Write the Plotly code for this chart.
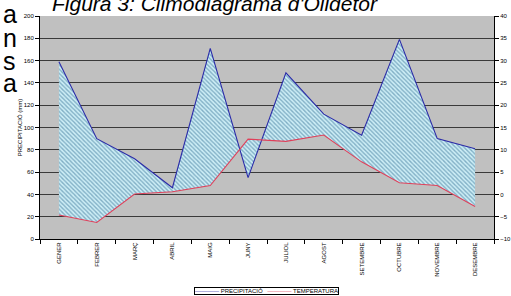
import plotly.graph_objects as go

months = ["GENER", "FEBRER", "MARÇ", "ABRIL", "MAIG", "JUNY", "JULIOL",
          "AGOST", "SETEMBRE", "OCTUBRE", "NOVEMBRE", "DESEMBRE"]
precip = [159, 90, 72, 46, 171, 55, 149, 112, 93, 179, 90, 81]
temp = [-4.6, -6.3, 0.1, 0.6, 2.0, 12.4, 11.9, 13.3, 7.3, 2.6, 2.0, -2.7]
series_names = ["PRECIPITACIÓ", "TEMPERATURA"]

P_RANGE = [0, 200]
T_RANGE = [-10, 40]
scale = (P_RANGE[1] - P_RANGE[0]) / (T_RANGE[1] - T_RANGE[0])
temp_on_p = [(t - T_RANGE[0]) * scale + P_RANGE[0] for t in temp]

FONT = "Arial, Liberation Sans, sans-serif"
BLUE = "#2a2aa8"
RED = "#e0405a"

fig = go.Figure()
# hatched area between the two curves
fig.add_trace(go.Scatter(x=months, y=temp_on_p, mode="lines",
                         line=dict(width=0), showlegend=False, hoverinfo="skip"))
fig.add_trace(go.Scatter(x=months, y=precip, mode="lines", line=dict(width=0),
                         fill="tonexty", fillcolor="rgba(0,0,0,0)",
                         fillpattern=dict(shape="\\", fgcolor="#356f94",
                                          bgcolor="#cdeef6", size=3, solidity=0.45),
                         showlegend=False, hoverinfo="skip"))
fig.add_trace(go.Scatter(x=months, y=precip, mode="lines", name=series_names[0],
                         line=dict(color=BLUE, width=1.1), showlegend=False))
fig.add_trace(go.Scatter(x=months, y=temp, mode="lines", name=series_names[1],
                         line=dict(color=RED, width=1.1), yaxis="y2", showlegend=False))

fig.update_layout(
    width=511, height=296,
    margin=dict(l=40, r=17, t=16, b=57, autoexpand=False),
    paper_bgcolor="white", plot_bgcolor="#c0c0c0",
    font=dict(family=FONT, size=6, color="black"),
    showlegend=False,
    xaxis=dict(type="category", range=[-0.5, 11.5], tickangle=-90,
               ticks="outside", tickson="boundaries", ticklen=4, tickcolor="black",
               showline=True, linecolor="black", linewidth=1, showgrid=False,
               automargin=False, tickfont=dict(size=6)),
    yaxis=dict(range=P_RANGE, dtick=20, ticks="outside", ticklen=4, tickcolor="black",
               showline=True, linecolor="black", linewidth=1,
               showgrid=False, zeroline=False, automargin=False,
               minor=dict(tickvals=[20, 40, 60, 80, 100, 120, 140, 160, 180],
                          showgrid=True, gridcolor="#3a3a3a", gridwidth=1, ticks=""),
               title=dict(text="PRECIPITACIÓ (mm)", font=dict(size=6), standoff=0),
               tickfont=dict(size=6)),
    yaxis2=dict(range=T_RANGE, dtick=5, overlaying="y", side="right",
                ticks="outside", ticklen=4, tickcolor="black",
                showline=True, linecolor="black", linewidth=1, automargin=False,
                showgrid=False, zeroline=False, tickfont=dict(size=6)),
)

# compact legend box
legend_text = (f"<span style='color:{BLUE}'>————</span>"
               f"<span style='color:black'> {series_names[0]}   </span>"
               f"<span style='color:{RED}'>————</span>"
               f"<span style='color:black'> {series_names[1]}</span>")
fig.add_annotation(text=legend_text, xref="paper", yref="paper",
                   x=(266 - 40) / 454, y=(239 - 290.5) / 223,
                   xanchor="center", yanchor="middle", showarrow=False,
                   bordercolor="black", borderwidth=1, borderpad=0, bgcolor="white",
                   font=dict(size=6, family=FONT, color="black"))

fig.add_annotation(text="<i>Figura 3: Climodiagrama d'Olidetor</i>",
                   xref="paper", yref="paper", x=(215 - 40) / 454, y=(239 - 3) / 223,
                   xanchor="center", yanchor="middle", showarrow=False,
                   font=dict(size=21, family=FONT, color="black"))

for ch, yc in zip(["a", "n", "s", "a"], [14, 38, 61, 83]):
    fig.add_annotation(text=ch, xref="paper", yref="paper",
                       x=(1 - 40) / 454, y=(239 - yc) / 223,
                       xanchor="left", yanchor="middle", showarrow=False,
                       font=dict(size=25, family=FONT, color="black"))

fig.write_html("out.html", config={"displayModeBar": False},
               post_script="document.body.style.margin='0';document.body.style.overflow='hidden';")
